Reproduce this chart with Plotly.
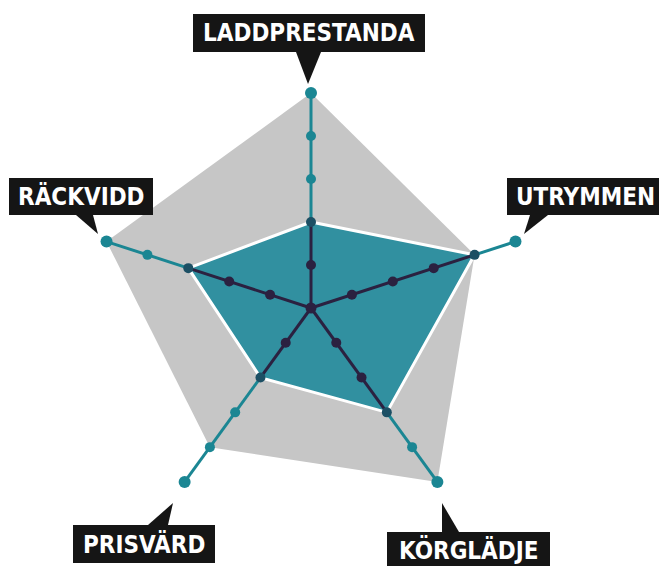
import plotly.graph_objects as go

# ---- data ----
categories = ["LADDPRESTANDA", "UTRYMMEN", "KÖRGLÄDJE", "PRISVÄRD", "RÄCKVIDD"]
max_values = [5, 4, 5, 4, 5]      # grey area
values = [2, 4, 3, 2, 3]          # teal area
levels = [1, 2, 3, 4, 5]
r_max = 5

W, H = 659, 566
CX, CY, R = 311, 308, 215

GREY = "#c6c6c6"
TEAL_FILL = "#3190a0"
TEAL_LINE = "#1b8693"
VERTEX = "#1c4f64"
DARK = "#2b2140"

fig = go.Figure()

closed = lambda a: list(a) + [a[0]]

fig.add_trace(go.Scatterpolar(
    r=closed(max_values), theta=closed(categories), mode="lines",
    fill="toself", fillcolor=GREY, line=dict(color=GREY, width=0),
    hoverinfo="skip", showlegend=False))

fig.add_trace(go.Scatterpolar(
    r=closed(values), theta=closed(categories), mode="lines",
    fill="toself", fillcolor=TEAL_FILL, line=dict(color="white", width=3),
    hoverinfo="skip", showlegend=False))

for cat, v in zip(categories, values):
    fig.add_trace(go.Scatterpolar(
        r=[v, r_max], theta=[cat, cat], mode="lines",
        line=dict(color=TEAL_LINE, width=3), hoverinfo="skip", showlegend=False))
    fig.add_trace(go.Scatterpolar(
        r=[0, v], theta=[cat, cat], mode="lines",
        line=dict(color=DARK, width=3), hoverinfo="skip", showlegend=False))

for cat, v in zip(categories, values):
    cols = [DARK if lv < v else (VERTEX if lv == v else TEAL_LINE) for lv in levels]
    sizes = [12 if lv == r_max else 10 for lv in levels]
    fig.add_trace(go.Scatterpolar(
        r=levels, theta=[cat] * len(levels), mode="markers",
        marker=dict(color=cols, size=sizes, opacity=1, line=dict(width=0)),
        hoverinfo="skip", showlegend=False))

fig.add_trace(go.Scatterpolar(
    r=[0], theta=[categories[0]], mode="markers",
    marker=dict(color=DARK, size=11, opacity=1), hoverinfo="skip", showlegend=False))

# ---- label callouts (pixel layout) ----
def px(x, y):
    return x / W, 1 - y / H

labels = [
    # text, box (x0,y0,x1,y1), pointer base (xa, xb, y), tip (x,y), text centre y
    ("LADDPRESTANDA", (193, 14, 425, 52), (296, 321, 52), (308, 84), 33),
    ("UTRYMMEN", (507, 178, 664, 215), (530, 548, 215), (524, 234), 196.5),
    ("KÖRGLÄDJE", (387, 532, 550, 574), (442, 459, 532), (442, 503), 550),
    ("PRISVÄRD", (73, 525, 215, 563), (148, 168, 525), (173, 503), 544),
    ("RÄCKVIDD", (9, 178, 153, 215), (76, 93, 215), (98, 234), 196.5),
]

shapes = []
annotations = []
for text, (x0, y0, x1, y1), (xa, xb, yb), (tx, ty), ty_text in labels:
    a, b = px(x0, y0)
    c, d = px(x1, y1)
    shapes.append(dict(type="rect", xref="paper", yref="paper",
                       x0=a, y0=d, x1=c, y1=b, fillcolor="#151515",
                       line=dict(width=0), layer="above"))
    p1, p2, p3 = px(xa, yb), px(xb, yb), px(tx, ty)
    shapes.append(dict(type="path", xref="paper", yref="paper",
                       path=f"M {p1[0]},{p1[1]} L {p2[0]},{p2[1]} L {p3[0]},{p3[1]} Z",
                       fillcolor="#151515", line=dict(width=0), layer="above"))
    cxp, cyp = px((x0 + x1) / 2, ty_text)
    annotations.append(dict(x=cxp, y=cyp, xref="paper", yref="paper",
                            text=f"<b>{text}</b>", showarrow=False,
                            xanchor="center", yanchor="middle",
                            font=dict(family="DejaVu Sans Condensed, Liberation Sans Narrow, Roboto, sans-serif",
                                      size=24, color="white")))

fig.update_layout(
    width=W, height=H,
    margin=dict(l=0, r=0, t=0, b=0),
    paper_bgcolor="white", plot_bgcolor="white",
    showlegend=False,
    polar=dict(
        domain=dict(x=[(CX - R) / W, (CX + R) / W],
                    y=[(H - CY - R) / H, (H - CY + R) / H]),
        bgcolor="rgba(0,0,0,0)",
        radialaxis=dict(range=[0, r_max], visible=False, showgrid=False),
        angularaxis=dict(visible=False, rotation=90, direction="clockwise",
                         categoryorder="array", categoryarray=categories,
                         showgrid=False),
    ),
    shapes=shapes,
    annotations=annotations,
)

fig.write_html("out.html")
